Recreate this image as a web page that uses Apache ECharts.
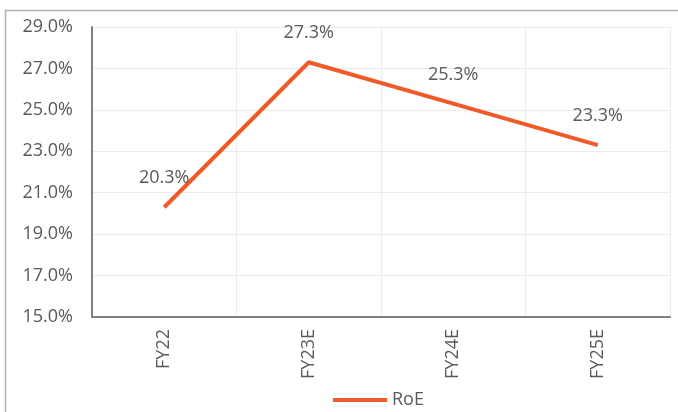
<!DOCTYPE html>
<html><head><meta charset="utf-8">
<script src="https://cdn.jsdelivr.net/npm/echarts@6/dist/echarts.min.js"></script>
<style>html,body{margin:0;padding:0;background:#fff}#c{width:678px;height:412px}</style>
</head><body><div id="c"></div>
<script>
var categories = ['FY22', 'FY23E', 'FY24E', 'FY25E'];
var roeValues = [20.3, 27.3, 25.3, 23.3];
var seriesName = 'RoE';
var yMin = 15, yMax = 29, yStep = 2;

var chart = echarts.init(document.getElementById('c'));
var font = '"Open Sans", sans-serif';
chart.setOption({
  animation: false,
  textStyle: { fontFamily: font },
  graphic: [{ type: 'rect', shape: { x: 5.5, y: 10.5, width: 700, height: 420 }, style: { fill: 'none', stroke: '#b0b0b0', lineWidth: 1.5 }, silent: true }],
  grid: { left: 92, right: 8, top: 27, bottom: 95 },
  legend: {
    data: [seriesName], left: 333, top: 391, padding: 0, icon: 'rect', itemWidth: 54, itemHeight: 4, itemGap: 6,
    textStyle: { color: '#595959', fontSize: 18, fontFamily: font }
  },
  xAxis: {
    type: 'category', data: categories, boundaryGap: true,
    axisLine: { lineStyle: { color: '#808080', width: 2 } },
    axisTick: { show: false },
    axisLabel: { rotate: 90, color: '#595959', fontSize: 18, margin: 12, fontFamily: font },
    splitLine: { show: true, lineStyle: { color: '#ebebeb', width: 1 } }
  },
  yAxis: {
    type: 'value', min: yMin, max: yMax, interval: yStep,
    axisLine: { show: true, lineStyle: { color: '#808080', width: 2 } },
    axisTick: { show: false },
    axisLabel: { color: '#595959', fontSize: 18, margin: 19, fontFamily: font, formatter: function (v) { return v.toFixed(1) + '%'; } },
    splitLine: { lineStyle: { color: '#ebebeb', width: 1 } }
  },
  series: [{
    name: seriesName, type: 'line', data: roeValues, symbol: 'circle', symbolSize: 0, showSymbol: true,
    lineStyle: { color: '#F05A28', width: 4 }, itemStyle: { color: '#F05A28' },
    label: { show: true, position: 'top', distance: 20, color: '#595959', fontSize: 18, fontFamily: font, formatter: function (p) { return p.value.toFixed(1) + '%'; } }
  }]
});
</script></body></html>
